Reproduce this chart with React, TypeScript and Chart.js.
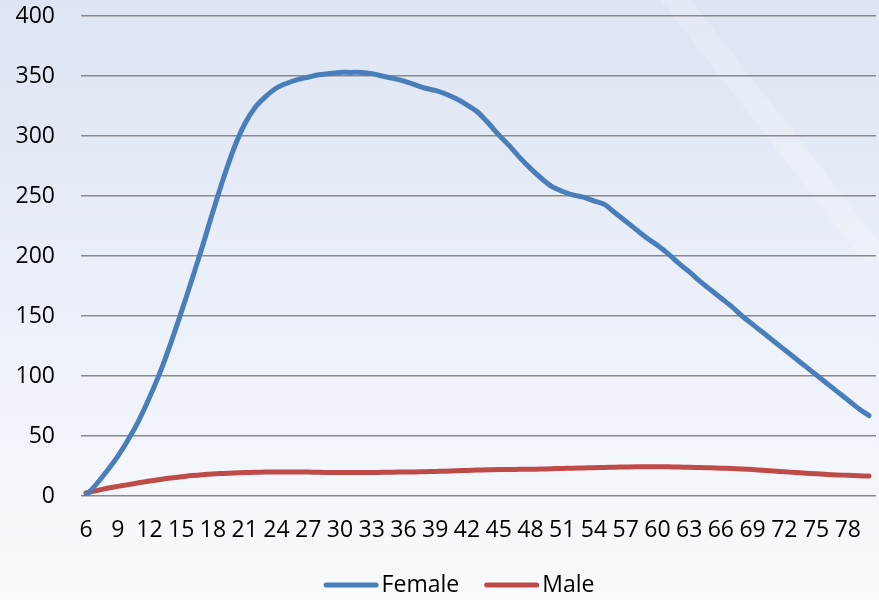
import { useEffect, useRef } from "react";
import { Chart, registerables } from "chart.js";

Chart.register(...registerables);

const ages = [
  6, 7, 8, 9, 10, 11, 12, 13, 14, 15, 16, 17, 18, 19, 20, 21, 22, 23, 24, 25,
  26, 27, 28, 29, 30, 31, 32, 33, 34, 35, 36, 37, 38, 39, 40, 41, 42, 43, 44, 45,
  46, 47, 48, 49, 50, 51, 52, 53, 54, 55, 56, 57, 58, 59, 60, 61, 62, 63, 64, 65,
  66, 67, 68, 69, 70, 71, 72, 73, 74, 75, 76, 77, 78, 79, 80,
];

const female = [
  0, 10, 21, 33, 47, 63, 82, 103, 127, 153, 180, 208, 237, 265, 290, 310, 324, 333, 340, 344,
  347, 349, 351, 352, 353, 353, 353, 352, 350, 348, 346, 343, 340, 338, 335, 331, 326, 320, 311, 301,
  292, 282, 273, 265, 258, 254, 251, 249, 246, 243, 236, 229, 222, 215, 209, 202, 194, 187, 179, 172,
  165, 158, 150, 143, 136, 129, 122, 115, 108, 101, 94, 87, 80, 73, 67,
];

const male = [
  2.5, 4.5, 6.5, 8, 9.5, 11, 12.5, 13.8, 15, 16, 17, 17.8, 18.4, 18.8, 19.2, 19.5, 19.7, 19.9, 20, 20,
  20, 19.9, 19.7, 19.6, 19.5, 19.5, 19.5, 19.6, 19.7, 19.8, 20, 20.1, 20.3, 20.5, 20.7, 21, 21.3, 21.6, 21.8, 22,
  22.1, 22.2, 22.3, 22.5, 22.7, 23, 23.2, 23.4, 23.6, 23.8, 24, 24.2, 24.4, 24.4, 24.4, 24.3, 24.1, 23.9, 23.7, 23.5,
  23.2, 22.9, 22.5, 22, 21.4, 20.8, 20.2, 19.6, 19, 18.5, 18, 17.6, 17.2, 16.9, 16.6,
];

const seriesLabels = ["Female", "Male"];
const seriesColors = ["#4A7EBB", "#BE4B48"];
const yMin = 0;
const yMax = 400;
const yStep = 50;
const xStep = 3;

export default function App() {
  const ref = useRef<HTMLCanvasElement>(null);

  useEffect(() => {
    document.body.style.margin = "0";
    const fontFamily = "'Open Sans', sans-serif";
    const font = { family: fontFamily, size: 23 };

    const bg = {
      id: "bg",
      beforeDraw(chart: any) {
        const { ctx, width, height } = chart;
        ctx.save();
        const g = ctx.createLinearGradient(0, 0, 0, height);
        g.addColorStop(0, "#dde5f3");
        g.addColorStop(0.6, "#eef2f9");
        g.addColorStop(1, "#f9fafd");
        ctx.fillStyle = g;
        ctx.fillRect(0, 0, width, height);
        ctx.strokeStyle = "rgba(255,255,255,0.18)";
        ctx.lineWidth = 24;
        ctx.lineCap = "round";
        ctx.beginPath();
        ctx.moveTo(668, -10);
        ctx.lineTo(870, 250);
        ctx.stroke();
        ctx.restore();
      },
    };

    const lineLegend = {
      id: "lineLegend",
      afterDraw(chart: any) {
        const { ctx } = chart;
        const lineLen = 55;
        const gap = 3;
        const itemGap = 25;
        const cy = 585;
        ctx.save();
        ctx.font = `23px ${fontFamily}`;
        ctx.textBaseline = "middle";
        ctx.textAlign = "left";
        const items = chart.data.datasets.map((d: any) => ({
          text: d.label,
          color: d.borderColor,
          w: ctx.measureText(d.label).width,
        }));
        const total =
          items.reduce((s: number, it: any) => s + lineLen + gap + it.w, 0) +
          itemGap * (items.length - 1);
        let x = 459 - total / 2;
        items.forEach((it: any) => {
          ctx.strokeStyle = it.color;
          ctx.lineWidth = 5;
          ctx.lineCap = "round";
          ctx.beginPath();
          ctx.moveTo(x + 2.5, cy);
          ctx.lineTo(x + lineLen - 2.5, cy);
          ctx.stroke();
          ctx.fillStyle = "#000";
          ctx.fillText(it.text, x + lineLen + gap, cy);
          x += lineLen + gap + it.w + itemGap;
        });
        ctx.restore();
      },
    };

    const chart = new Chart(ref.current!, {
      type: "line",
      data: {
        datasets: [
          {
            label: seriesLabels[0],
            data: ages.map((a, i) => ({ x: a, y: female[i] })),
            borderColor: seriesColors[0],
            backgroundColor: seriesColors[0],
            borderWidth: 5,
            pointRadius: 0,
            tension: 0.3,
            borderCapStyle: "round",
            borderJoinStyle: "round",
          },
          {
            label: seriesLabels[1],
            data: ages.map((a, i) => ({ x: a, y: male[i] })),
            borderColor: seriesColors[1],
            backgroundColor: seriesColors[1],
            borderWidth: 5,
            pointRadius: 0,
            tension: 0.3,
            borderCapStyle: "round",
            borderJoinStyle: "round",
          },
        ],
      },
      options: {
        responsive: false,
        animation: false,
        layout: { padding: { left: 16, right: 3, top: 16, bottom: 53 } },
        scales: {
          x: {
            type: "linear",
            min: 5.53,
            max: 80.66,
            grid: { display: false },
            border: { display: false },
            ticks: {
              stepSize: xStep,
              includeBounds: false,
              autoSkip: false,
              maxRotation: 0,
              padding: 13,
              color: "#000",
              font,
            },
            afterFit(scale: any) {
              scale.paddingLeft = 0;
              scale.paddingRight = 0;
              scale.height = 51;
            },
          },
          y: {
            min: yMin,
            max: yMax,
            ticks: { stepSize: yStep, padding: 26, color: "#000", font },
            grid: { color: "#8a8a8a", lineWidth: 1.5, drawTicks: false },
            border: { display: false },
            afterFit(scale: any) {
              scale.width = 65;
              scale.paddingTop = 0;
              scale.paddingBottom = 0;
            },
          },
        },
        plugins: {
          legend: { display: false },
          tooltip: { enabled: false },
        },
      },
      plugins: [bg, lineLegend],
    } as any);
    return () => chart.destroy();
  }, []);

  return (
    <div style={{ width: 879, height: 600 }}>
      <canvas ref={ref} width={879} height={600} style={{ display: "block" }} />
    </div>
  );
}
